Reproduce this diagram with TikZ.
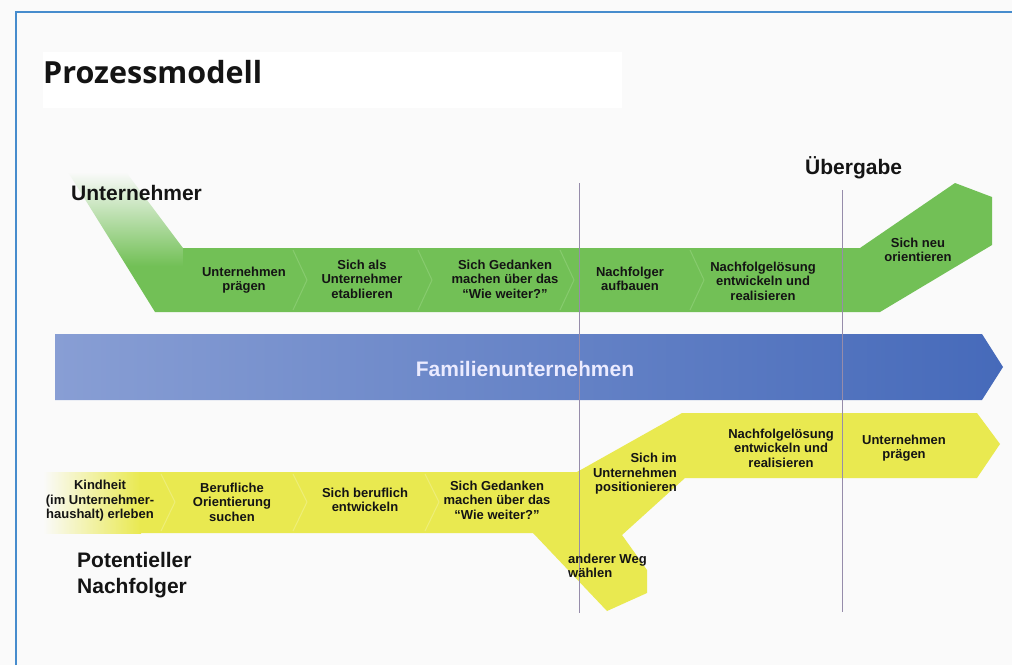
\documentclass[tikz,border=0pt]{standalone}
\usepackage{fontspec}
\setmainfont{Liberation Sans}
\newfontfamily\titlefont{Open Sans}
\definecolor{bgc}{RGB}{250,250,250}
\definecolor{gr}{RGB}{114,192,86}
\definecolor{grline}{RGB}{135,203,110}
\definecolor{yel}{RGB}{233,233,80}
\definecolor{yelline}{RGB}{238,238,120}
\definecolor{bluel}{RGB}{136,158,212}
\definecolor{blued}{RGB}{70,106,186}
\definecolor{frame}{RGB}{70,140,205}
\definecolor{vline}{RGB}{150,140,170}
\definecolor{txt}{RGB}{20,20,20}
\begin{document}
\begin{tikzpicture}[x=1pt,y=-1pt,
  lab/.style={font=\bfseries\fontsize{13}{14.5}\selectfont,text=txt,inner sep=0pt,align=center},
  biglab/.style={font=\bfseries\fontsize{21}{26}\selectfont,text=txt,inner sep=0pt,align=left},
  chev/.style={line width=1pt,line join=round}]
\useasboundingbox (0,0) rectangle (1012,665);
\fill[bgc] (0,0) rectangle (1012,665);
% frame
\draw[frame,line width=2pt] (16,665) -- (16,12) -- (1012,12);
% title
\fill[white] (43,52) rectangle (622,108);
\node[anchor=base west,inner sep=0pt,font=\titlefont\bfseries\fontsize{30.5}{36}\selectfont,text=txt] (title) at (43,83) {Prozessmodell};
% green band
\shade[top color=bgc,bottom color=gr] (68,172) -- (126,172) -- (183,248) -- (183,266) -- (126.5,266) -- cycle;
\fill[gr] (126.5,266) -- (183,266) -- (183,248) -- (860,248) -- (955,183) -- (992,197) -- (992,245) -- (880,312) -- (155,312) -- cycle;
\foreach \cx in {300,425,567,697}
  \draw[grline,chev] (\cx-7,250) -- (\cx+7,280) -- (\cx-7,310);
% blue arrow
\shade[left color=bluel,right color=blued] (55,334) -- (982,334) -- (1003,367) -- (982,400) -- (55,400) -- cycle;
\node[inner sep=0pt,font=\bfseries\fontsize{21}{24}\selectfont,text=white!92!blue] (fam) at (525,369) {Familienunternehmen};
% yellow shape
\shade[left color=bgc,right color=yel] (43,472) rectangle (141,533);
\fill[yel] (140,472) -- (577,472) -- (682,413) -- (977,413) -- (1000,444) -- (977,478) -- (685,478) -- (622,535) -- (647,570) -- (647,593) -- (607,611) -- (533,533) -- (140,533) -- cycle;
\foreach \cx in {168,300,432}
  \draw[yelline,chev] (\cx-7,474) -- (\cx+7,502) -- (\cx-7,531);
% vertical lines
\coordinate (v1t) at (579,183); \coordinate (v1b) at (579,613);
\coordinate (v2t) at (842,190); \coordinate (v2b) at (842,612);
\draw[vline,line width=0.8pt] (v1t) -- (v1b);
\draw[vline,line width=0.8pt] (v2t) -- (v2b);
% big labels
\node[biglab,anchor=west] (unt) at (71,193) {Unternehmer};
\node[biglab,anchor=west] (ueb) at (805,168) {Übergabe};
\node[biglab,anchor=west] (pot) at (77,575) {Potentieller\\Nachfolger};
% green texts
\node[lab] (g1) at (244,280) {Unternehmen\\prägen};
\node[lab] (g2) at (362,279) {Sich als\\Unternehmer\\etablieren};
\node[lab] (g3) at (505,279) {Sich Gedanken\\machen über das\\“Wie weiter?”};
\node[lab] (g4) at (630,279) {Nachfolger\\aufbauen};
\node[lab] (g5) at (763,281) {Nachfolgelösung\\entwickeln und\\realisieren};
\node[lab] (g6) at (918,250) {Sich neu\\orientieren};
% yellow texts
\node[lab] (y1) at (100,501) {Kindheit\\(im Unternehmer-\\haushalt) erleben};
\node[lab] (y2) at (232,502) {Berufliche\\Orientierung\\suchen};
\node[lab] (y3) at (365,500) {Sich beruflich\\entwickeln};
\node[lab] (y4) at (497,500) {Sich Gedanken\\machen über das\\“Wie weiter?”};
\node[lab,align=right,anchor=east] (y5) at (677,474) {Sich im\\Unternehmen\\positionieren};
\node[lab] (y6) at (781,448) {Nachfolgelösung\\entwickeln und\\realisieren};
\node[lab] (y7) at (904,448) {Unternehmen\\prägen};
\node[lab,align=left,anchor=west] (y8) at (568,566) {anderer Weg\\wählen};
\end{tikzpicture}
\end{document}
